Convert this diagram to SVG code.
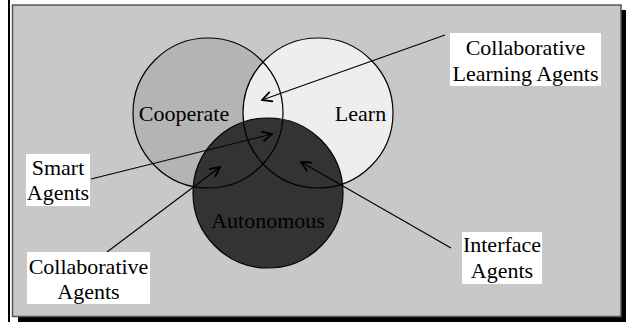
<svg xmlns="http://www.w3.org/2000/svg" width="626" height="322" viewBox="0 0 626 322">
<style>
  text { font-family: 'Liberation Serif', 'DejaVu Serif', 'Times New Roman', serif; font-size: 22px; fill: #000; }
  .box { fill: #fff; stroke: none; }
  .ring { fill: none; stroke: #000; stroke-width: 1.2; }
  .conn { stroke: #000; stroke-width: 1.1; fill: none; marker-end: url(#arr); }
</style>
<defs>
  <marker id="arr" viewBox="0 0 12 12" refX="11" refY="6" markerWidth="12" markerHeight="12" markerUnits="userSpaceOnUse" orient="auto">
    <path d="M1,1 L11,6 L1,11" fill="none" stroke="#000" stroke-width="1.8"/>
  </marker>
</defs>
<rect x="0" y="0" width="626" height="322" fill="#fff"/>
<line x1="9" y1="0" x2="9" y2="322" stroke="#000" stroke-width="2"/>
<rect x="18" y="10" width="608" height="312" fill="#000"/>
<rect x="12.5" y="5" width="608.5" height="311.5" fill="#c8c8c8" stroke="#555" stroke-width="1.5"/>

<g id="cooperate">
  <circle cx="208" cy="113" r="75" fill="#b4b4b4"/>
</g>
<g id="learn">
  <circle cx="318" cy="113" r="75" fill="#eeeeee"/>
</g>
<g id="autonomous">
  <circle cx="268" cy="193" r="75" fill="#333333"/>
</g>
<g id="outlines">
  <circle class="ring" cx="208" cy="113" r="75"/>
  <circle class="ring" cx="318" cy="113" r="75"/>
  <circle class="ring" cx="268" cy="193" r="75"/>
</g>
<text font-family="Liberation Serif, serif" x="184" y="121" text-anchor="middle">Cooperate</text>
<text font-family="Liberation Serif, serif" x="360.5" y="121" text-anchor="middle">Learn</text>
<text font-family="Liberation Serif, serif" x="268" y="228" text-anchor="middle">Autonomous</text>

<g id="connectors">
  <line class="conn" x1="445" y1="35" x2="262" y2="100"/>
  <line class="conn" x1="91" y1="179" x2="272" y2="134"/>
  <line class="conn" x1="107" y1="252" x2="220" y2="167"/>
  <line class="conn" x1="451" y1="248" x2="301" y2="162"/>
</g>

<g id="collab-learning">
  <rect class="box" x="450" y="33" width="151" height="53"/>
  <text x="525.5" y="55" text-anchor="middle">Collaborative</text>
  <text x="525.5" y="81" text-anchor="middle">Learning Agents</text>
</g>
<g id="smart">
  <rect class="box" x="26" y="154" width="64" height="52"/>
  <text x="58" y="175" text-anchor="middle">Smart</text>
  <text x="58" y="200" text-anchor="middle">Agents</text>
</g>
<g id="collab">
  <rect class="box" x="27" y="252" width="123" height="52"/>
  <text x="88.5" y="274" text-anchor="middle">Collaborative</text>
  <text x="88.5" y="299" text-anchor="middle">Agents</text>
</g>
<g id="interface">
  <rect class="box" x="462" y="232" width="80" height="52"/>
  <text x="502" y="252" text-anchor="middle">Interface</text>
  <text x="502" y="278" text-anchor="middle">Agents</text>
</g>
</svg>
